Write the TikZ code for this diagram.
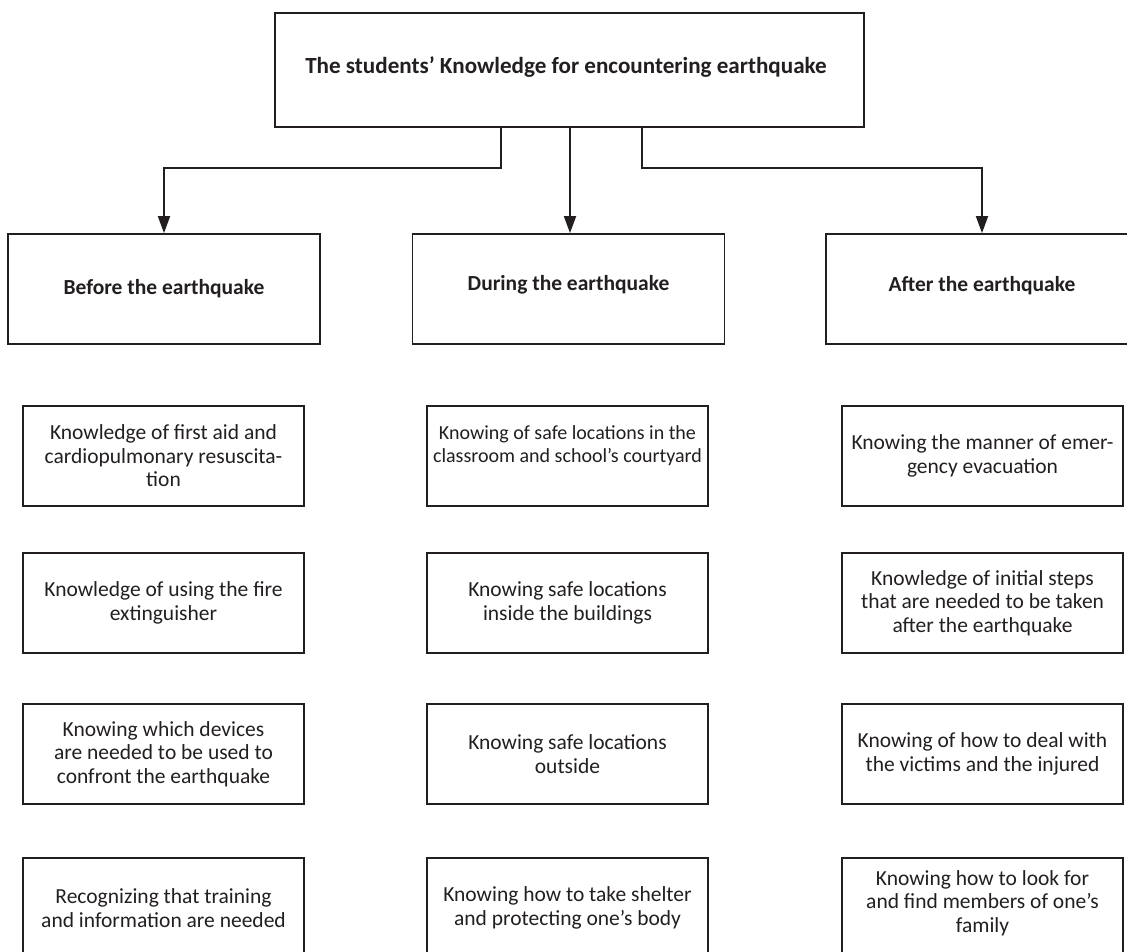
\documentclass[tikz,border=0pt]{standalone}
\usepackage{fontspec}
\setmainfont{Carlito}
\usetikzlibrary{arrows.meta}
\definecolor{ink}{HTML}{231F20}
\newcommand{\bodyfont}{\fontsize{21.5}{23.5}\selectfont}
\newcommand{\smallbodyfont}{\fontsize{20}{23}\selectfont}
\newcommand{\headfont}{\fontsize{21.5}{23.5}\selectfont\bfseries}
\newcommand{\titlefont}{\fontsize{23.1}{25}\selectfont\bfseries}
\tikzset{
  every node/.style={text=ink},
  framebox/.style={draw=ink, line width=1.8pt, inner sep=0pt, align=center},
  topbox/.style={framebox, minimum width=589pt, minimum height=114pt, font=\titlefont},
  headbox/.style={framebox, minimum width=312pt, minimum height=110pt, font=\headfont},
  itembox/.style={framebox, minimum width=281pt, minimum height=100pt, font=\bodyfont},
  itemtext/.style={inner sep=0pt, align=center, font=\bodyfont},
  conn/.style={draw=ink, line width=1.8pt},
  arr/.style={conn, -{Triangle[length=17pt,width=12pt]}}
}
\begin{document}
\begin{tikzpicture}[x=1pt,y=-1pt]
\useasboundingbox (0,0) rectangle (1127,952);
\fill[white] (0,0) rectangle (1127,952);
% top
\node[topbox] (top) at (569.5,70) {};
\node[inner sep=0pt, font=\titlefont] (title) at (566,67) {The students’ Knowledge for encountering earthquake};
% headers
\node[headbox] (before) at (164,289) {Before the earthquake};
\node[headbox] (during) at (568.5,289) {};
\node[inner sep=0pt, font=\headfont] (duringt) at (568.5,285) {During the earthquake};
\node[headbox] (after) at (982,289) {};
\node[inner sep=0pt, font=\headfont] (aftert) at (982,286) {After the earthquake};
% connectors
\coordinate (tl) at (501,127);
\coordinate (tm) at (570,127);
\coordinate (tr) at (642,127);
\draw[arr] (tl) -- (501,168) -| (before.north);
\draw[arr] (tm) -- (tm |- during.north);
\draw[arr] (tr) -- (642,168) -| (after.north);
% left column
\node[itembox] (b1) at (163.5,456) {Knowledge of first aid and\\cardiopulmonary resuscita-\\tion};
\node[itembox] (b2) at (163.5,603) {Knowledge of using the fire\\extinguisher};
\node[itembox] (b3) at (163.5,754) {Knowing which devices\\are needed to be used to\\confront the earthquake};
\node[itembox] (b4) at (163.5,908) {Recognizing that training\\and information are needed};
% middle column
\node[itembox] (d1) at (567.5,456) {};
\node[itemtext, font=\smallbodyfont] (d1t) at (567.5,446) {Knowing of safe locations in the\\classroom and school’s courtyard};
\node[itembox] (d2) at (567.5,603) {Knowing safe locations\\inside the buildings};
\node[itembox] (d3) at (567.5,754) {Knowing safe locations\\outside};
\node[itembox] (d4) at (567.5,908) {Knowing how to take shelter\\and protecting one’s body};
% right column
\node[itembox] (a1) at (982.5,456) {Knowing the manner of emer-\\gency evacuation};
\node[itembox] (a2) at (982.5,603) {Knowledge of initial steps\\that are needed to be taken\\after the earthquake};
\node[itembox] (a3) at (982.5,754) {Knowing of how to deal with\\the victims and the injured};
\node[itembox] (a4) at (982.5,908) {};
\node[itemtext] (a4t) at (982.5,903) {Knowing how to look for\\and find members of one’s\\family};
\end{tikzpicture}
\end{document}
